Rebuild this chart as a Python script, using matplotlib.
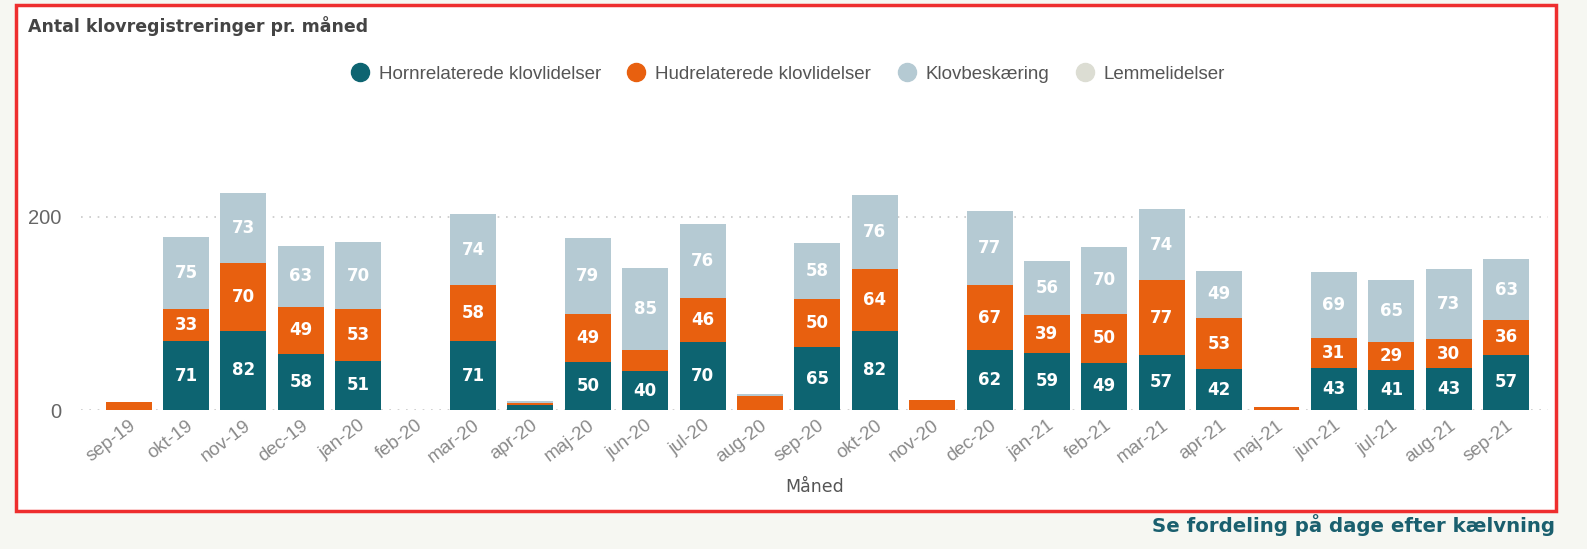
import numpy as np
import matplotlib.pyplot as plt
from matplotlib.patches import Rectangle
from matplotlib.lines import Line2D

months = ['sep-19', 'okt-19', 'nov-19', 'dec-19', 'jan-20', 'feb-20', 'mar-20', 'apr-20',
          'maj-20', 'jun-20', 'jul-20', 'aug-20', 'sep-20', 'okt-20', 'nov-20', 'dec-20',
          'jan-21', 'feb-21', 'mar-21', 'apr-21', 'maj-21', 'jun-21', 'jul-21', 'aug-21', 'sep-21']
horn = [0, 71, 82, 58, 51, 0, 71, 5, 50, 40, 70, 0, 65, 82, 0, 62, 59, 49, 57, 42, 0, 43, 41, 43, 57]
hud = [8, 33, 70, 49, 53, 0, 58, 2, 49, 22, 46, 14, 50, 64, 10, 67, 39, 50, 77, 53, 3, 31, 29, 30, 36]
klov = [0, 75, 73, 63, 70, 0, 74, 2, 79, 85, 76, 3, 58, 76, 0, 77, 56, 70, 74, 49, 0, 69, 65, 73, 63]
lemme = [0] * 25

series = ['Hornrelaterede klovlidelser', 'Hudrelaterede klovlidelser', 'Klovbeskæring', 'Lemmelidelser']
colors = ['#0D6471', '#E8600F', '#B5CAD3', '#DCDDD3']

W, H = 1587, 549
fig = plt.figure(figsize=(W / 100, H / 100), dpi=100)
fig.patch.set_facecolor('#F6F7F2')

# white panel with red border
panel = Rectangle((16 / W, (H - 511) / H), 1540 / W, 506 / H, transform=fig.transFigure,
                  facecolor='white', edgecolor='#EE2E2E', linewidth=2.5, zorder=-5)
fig.add_artist(panel)

ax = fig.add_axes([81 / W, (H - 410) / H, (1548 - 81) / W, 290 / H])
ax.set_facecolor('none')
ax.set_zorder(2)

x = np.arange(len(months))
bottom = np.zeros(len(months))
for vals, col in zip([horn, hud, klov, lemme], colors):
    vals = np.array(vals)
    ax.bar(x, vals, 0.8, bottom=bottom, color=col, zorder=3)
    for xi, b, v in zip(x, bottom, vals):
        if v >= 25:
            ax.text(xi, b + v / 2, str(v), ha='center', va='center', color='white',
                    fontsize=12, fontweight='bold', zorder=4)
    bottom = bottom + vals

ax.set_xlim(-0.83, 24.73)
ax.set_ylim(0, 300)
ax.set_yticks([0, 200])
for y in [0, 200]:
    ax.axhline(y, color='#C8C8C8', linestyle=(0, (1, 4)), linewidth=1.2, zorder=1)
for s in ax.spines.values():
    s.set_visible(False)
ax.tick_params(axis='y', length=0, labelsize=14.5, labelcolor='#666666', pad=14)
ax.tick_params(axis='x', length=0, labelsize=13.5, labelcolor='#8A8A8A', pad=5)
ax.set_xticks(x)
ax.set_xticklabels(months, rotation=37, ha='right', rotation_mode='anchor', family='Liberation Sans')
for t in ax.get_yticklabels():
    t.set_family('Liberation Sans')
ax.set_xlabel('Måned', fontsize=12.5, color='#555555', labelpad=8)

fig.text(28 / W, 1 - 26 / H, 'Antal klovregistreringer pr. måned', fontsize=12.5, fontweight='bold',
         color='#444444', va='center', ha='left')

handles = [Line2D([], [], marker='o', linestyle='', markersize=13, color=c) for c in colors]
fig.legend(handles, series, loc='center', bbox_to_anchor=(783 / W, 1 - 74 / H), ncol=4, frameon=False,
           prop={'family': 'Liberation Sans', 'size': 13.5}, labelcolor='#555555',
           handletextpad=0.0, columnspacing=0.9)

fig.text(1555 / W, 1 - 525 / H, 'Se fordeling på dage efter kælvning', fontsize=14.2, fontweight='bold',
         color='#1A5F6E', ha='right', va='center')

fig.savefig('out.png', dpi=100, facecolor=fig.get_facecolor())
